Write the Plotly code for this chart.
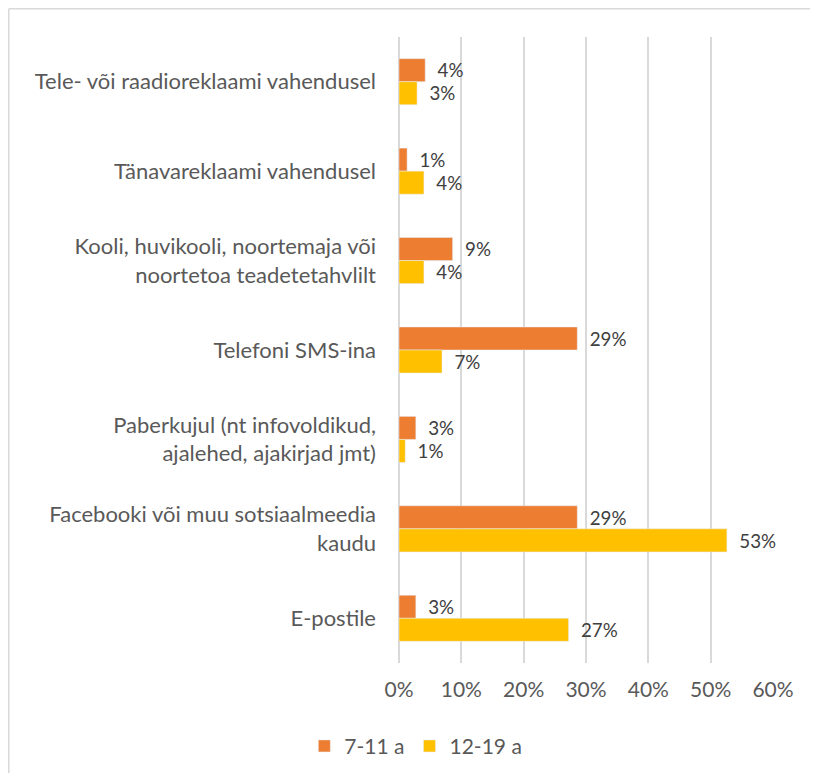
import plotly.graph_objects as go

# categories, top to bottom
categories = [
    "Tele- või raadioreklaami vahendusel",
    "Tänavareklaami vahendusel",
    "Kooli, huvikooli, noortemaja või<br>noortetoa teadetetahvlilt",
    "Telefoni SMS-ina",
    "Paberkujul (nt infovoldikud,<br>ajalehed, ajakirjad jmt)",
    "Facebooki või muu sotsiaalmeedia<br>kaudu",
    "E-postile",
]
age_7_11 = [0.042, 0.013, 0.086, 0.286, 0.027, 0.286, 0.027]
age_12_19 = [0.029, 0.040, 0.040, 0.069, 0.010, 0.526, 0.272]
x_ticks = [0, 0.1, 0.2, 0.3, 0.4, 0.5, 0.6]

FONT = "Lato, 'Open Sans', sans-serif"

fig = go.Figure()
fig.add_trace(go.Bar(
    y=categories, x=age_7_11, name="7-11 a", orientation="h",
    marker=dict(color="#ED7D31"),
    texttemplate="\u2002%{x:.0%}", textposition="outside",
    textfont=dict(size=22, color="#404040", family=FONT),
    cliponaxis=False,
))
fig.add_trace(go.Bar(
    y=categories, x=age_12_19, name="12-19 a", orientation="h",
    marker=dict(color="#FFC000"),
    texttemplate="\u2002%{x:.0%}", textposition="outside",
    textfont=dict(size=22, color="#404040", family=FONT),
    cliponaxis=False,
))

fig.update_layout(
    width=802, height=765,
    margin=dict(l=391, r=37, t=29, b=110, autoexpand=False),
    paper_bgcolor="white", plot_bgcolor="white",
    barmode="group", bargap=0.485, bargroupgap=0,
    font=dict(family=FONT, size=21, color="#595959"),
    legend=dict(orientation="h", x=0.045, xanchor="center", y=-0.133, yanchor="middle",
                font=dict(size=21, color="#595959"), itemwidth=30, traceorder="normal"),
)
fig.update_xaxes(
    range=[0, 0.6], tickvals=x_ticks, tickformat=".0%",
    showgrid=True, gridcolor="#d9d9d9", gridwidth=1.5,
    zeroline=True, zerolinecolor="#d9d9d9", zerolinewidth=1.5,
    showline=False, ticks="", ticklabelstandoff=12,
    tickfont=dict(size=21, color="#595959"),
)
fig.update_yaxes(
    autorange="reversed", showgrid=False, showline=False, ticks="",
    ticklabelstandoff=22, tickfont=dict(size=22, color="#595959"),
)

# light chart border: only top and left edges are inside the image
border = dict(color="#d9d9d9", width=1.5)
fig.add_shape(type="line", xref="paper", yref="paper",
              x0=-1.0434, x1=1.2, y0=1.0451, y1=1.0451, line=border, layer="below")
fig.add_shape(type="line", xref="paper", yref="paper",
              x0=-1.0434, x1=-1.0434, y0=-0.3, y1=1.0451, line=border, layer="below")

fig.write_html("out.html")
